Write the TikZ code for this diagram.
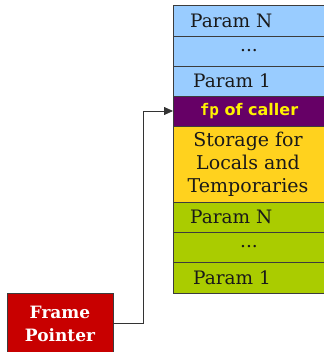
\documentclass[tikz,border=0pt]{standalone}
\usepackage{fontspec}
\setmainfont{DejaVu Serif}
\setsansfont{DejaVu Sans}
\setmonofont{DejaVu Sans Mono}
\usetikzlibrary{arrows.meta}
\definecolor{pblue}{RGB}{153,204,255}
\definecolor{ppurple}{RGB}{102,0,102}
\definecolor{pyellow}{RGB}{255,210,30}
\definecolor{pgreen}{RGB}{170,204,0}
\definecolor{pred}{RGB}{200,0,0}
\definecolor{pedge}{RGB}{60,60,60}
\begin{document}
\begin{tikzpicture}[x=1pt,y=-1pt,
  cell/.style={draw=pedge,line width=0.8pt},
  lbl/.style={font=\fontsize{18.5}{22}\selectfont,text=black!90,inner sep=0pt},
  conn/.style={draw=black!80,line width=0.8pt}]
\useasboundingbox (0,0) rectangle (323,352);
% stack cells
\path[cell,fill=pblue] (173,5) rectangle (330,36);
\path[cell,fill=pblue] (173,36) rectangle (330,66);
\path[cell,fill=pblue] (173,66) rectangle (330,96);
\path[cell,fill=ppurple] (173,96) rectangle (330,126);
\path[cell,fill=pyellow] (173,126) rectangle (330,202);
\path[cell,fill=pgreen] (173,202) rectangle (330,232);
\path[cell,fill=pgreen] (173,232) rectangle (330,262);
\path[cell,fill=pgreen] (173,262) rectangle (330,293);
\node[lbl,anchor=west] (pn1) at (190,21) {Param N};
\node[lbl] (d1) at (249,51) {...};
\node[lbl,anchor=west] (p11) at (193,81) {Param 1};
\node[inner sep=0pt,text=yellow,font=\sffamily\bfseries\fontsize{16}{18}\selectfont] (fp) at (249,111) {{\ttfamily fp} of caller};
\coordinate (fpw) at (173,111);
\node[lbl,align=center,font=\fontsize{19}{23}\selectfont] (st) at (248,164) {Storage for\\Locals and\\Temporaries};
\node[lbl,anchor=west] (pn2) at (190,217) {Param N};
\node[lbl] (d2) at (249,247) {...};
\node[lbl,anchor=west] (p12) at (193,278) {Param 1};
% frame pointer
\path[draw=pedge,line width=0.8pt,fill=pred] (7,293) rectangle (113,360);
\node[inner sep=0pt,align=center,text=white,font=\bfseries\fontsize{17}{23}\selectfont] (fpn) at (60,324) {Frame\\Pointer};
\coordinate (fpe) at (113,323);
\draw[conn,-{Triangle[length=9pt,width=8pt]}] (fpe) -| (143,111) -- (fpw);
\end{tikzpicture}
\end{document}
